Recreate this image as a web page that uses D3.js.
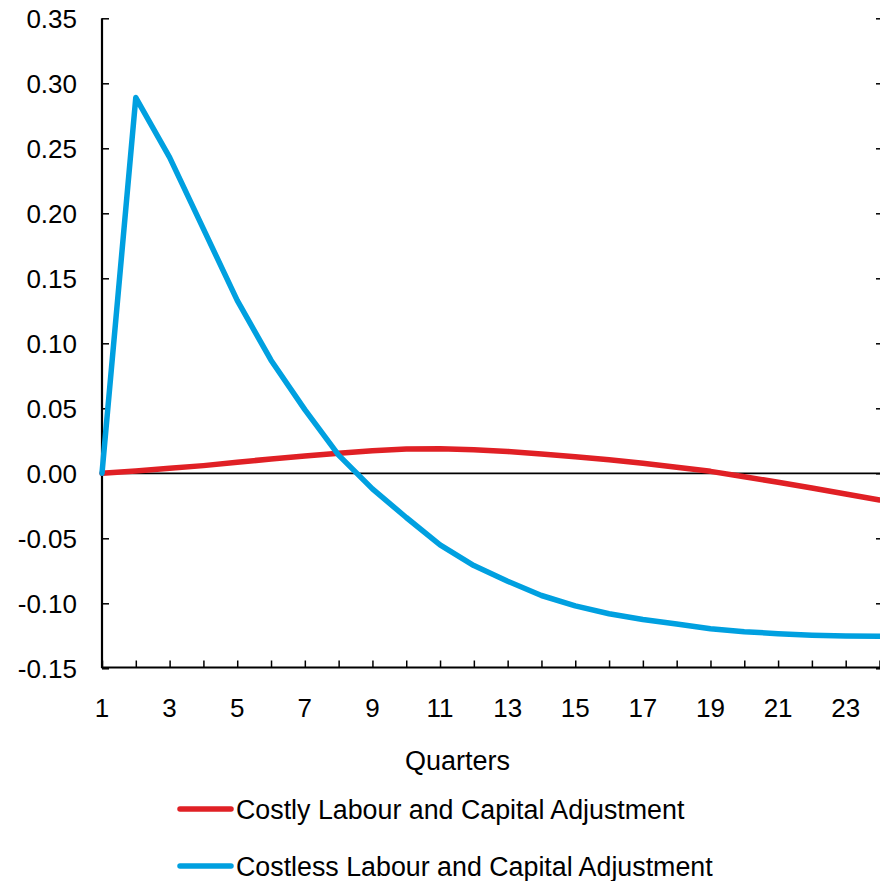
<!DOCTYPE html>
<html>
<head>
<meta charset="utf-8">
<script src="https://cdn.jsdelivr.net/npm/d3@7"></script>
<style>
  html, body { margin: 0; padding: 0; background: #fff; }
  svg { display: block; font-family: "Liberation Sans", Arial, sans-serif; }
</style>
</head>
<body>
<svg id="chart" width="880" height="881"></svg>
<script>
// Quarters after the shock
const quarters = d3.range(1, 25);
// Response with costly labour and capital adjustment
const costly = [0.0000, 0.0018, 0.0038, 0.0059, 0.0085, 0.0110, 0.0133, 0.0154, 0.0174, 0.0186,
                0.0188, 0.0182, 0.0168, 0.0149, 0.0128, 0.0105, 0.0078, 0.0047, 0.0015, -0.0026,
                -0.0069, -0.0113, -0.0159, -0.0205];
// Response with costless labour and capital adjustment
const costless = [0.0000, 0.2890, 0.2430, 0.1880, 0.1330, 0.0870, 0.0490, 0.0140, -0.0120, -0.0340,
                  -0.0550, -0.0710, -0.0830, -0.0940, -0.1020, -0.1080, -0.1125, -0.1160, -0.1195, -0.1218,
                  -0.1234, -0.1245, -0.1251, -0.1254];
const yTicks = [-0.15, -0.10, -0.05, 0.00, 0.05, 0.10, 0.15, 0.20, 0.25, 0.30, 0.35];
const xTickLabels = [1, 3, 5, 7, 9, 11, 13, 15, 17, 19, 21, 23];
const seriesNames = ["Costly Labour and Capital Adjustment", "Costless Labour and Capital Adjustment"];
const seriesColors = ["#e02025", "#00a0e0"];

const svg = d3.select("#chart");
const plotLeft = 102, plotRight = 879.5, plotTop = 18.3, plotBottom = 668.3;
const fontSize = 26;

const x = d3.scaleLinear().domain([1, 24]).range([plotLeft, plotRight]);
const y = d3.scaleLinear().domain([-0.15, 0.35]).range([plotBottom, plotTop]);
const fmt = d => d3.format(".2f")(d).replace("\u2212", "-");

// Left value axis, ticks pointing into the plot
const yAxis = svg.append("g")
  .attr("transform", `translate(${plotLeft},0)`)
  .call(d3.axisRight(y).tickValues(yTicks).tickSize(7).tickFormat(""));
yAxis.select(".domain").attr("stroke", "#000").attr("stroke-width", 2.2)
  .attr("d", `M0,${plotTop}V${plotBottom}`);
yAxis.selectAll(".tick line").attr("stroke", "#000").attr("stroke-width", 1.5);

// Tick labels for the value axis
svg.append("g").selectAll("text")
  .data(yTicks)
  .join("text")
  .attr("x", 77)
  .attr("y", d => y(d))
  .attr("dy", "0.36em")
  .attr("text-anchor", "end")
  .attr("font-size", fontSize)
  .attr("fill", "#000")
  .text(fmt);

// Right-hand tick marks
const yAxisR = svg.append("g")
  .attr("transform", `translate(880,0)`)
  .call(d3.axisLeft(y).tickValues(yTicks).tickSize(4).tickFormat(""));
yAxisR.select(".domain").remove();
yAxisR.selectAll(".tick line").attr("stroke", "#000").attr("stroke-width", 1.5);

// Category axis at the bottom, ticks pointing up
const xAxis = svg.append("g")
  .attr("transform", `translate(0,${plotBottom - 0.8})`)
  .call(d3.axisTop(x).tickValues(quarters).tickSize(7).tickFormat(""));
xAxis.select(".domain").attr("stroke", "#000").attr("stroke-width", 2.2)
  .attr("d", `M${plotLeft},0H880`);
xAxis.selectAll(".tick line").attr("stroke", "#000").attr("stroke-width", 1.5);

svg.append("g").selectAll("text")
  .data(xTickLabels)
  .join("text")
  .attr("x", d => x(d))
  .attr("y", 717)
  .attr("text-anchor", "middle")
  .attr("font-size", fontSize)
  .attr("fill", "#000")
  .text(d => d);

svg.append("text")
  .attr("x", 457.5)
  .attr("y", 770)
  .attr("text-anchor", "middle")
  .attr("font-size", 27)
  .attr("fill", "#000")
  .text("Quarters");

// Zero line
svg.append("line")
  .attr("x1", plotLeft).attr("x2", 880)
  .attr("y1", y(0)).attr("y2", y(0))
  .attr("stroke", "#000").attr("stroke-width", 1.8);

// Series
const line = d3.line().x((d, i) => x(quarters[i])).y(d => y(d));
[costly, costless].forEach((s, k) => {
  svg.append("path")
    .datum(s)
    .attr("d", line)
    .attr("fill", "none")
    .attr("stroke", seriesColors[k])
    .attr("stroke-width", 5.5)
    .attr("stroke-linejoin", "round")
    .attr("stroke-linecap", "round");
});

// Legend
const legendY = [809, 866];
seriesNames.forEach((name, k) => {
  svg.append("line")
    .attr("x1", 180).attr("x2", 231)
    .attr("y1", legendY[k]).attr("y2", legendY[k])
    .attr("stroke", seriesColors[k])
    .attr("stroke-width", 5.5)
    .attr("stroke-linecap", "round");
  svg.append("text")
    .attr("x", 236)
    .attr("y", legendY[k] + 9.5)
    .attr("font-size", 26.8)
    .attr("fill", "#000")
    .text(name);
});
</script>
</body>
</html>
